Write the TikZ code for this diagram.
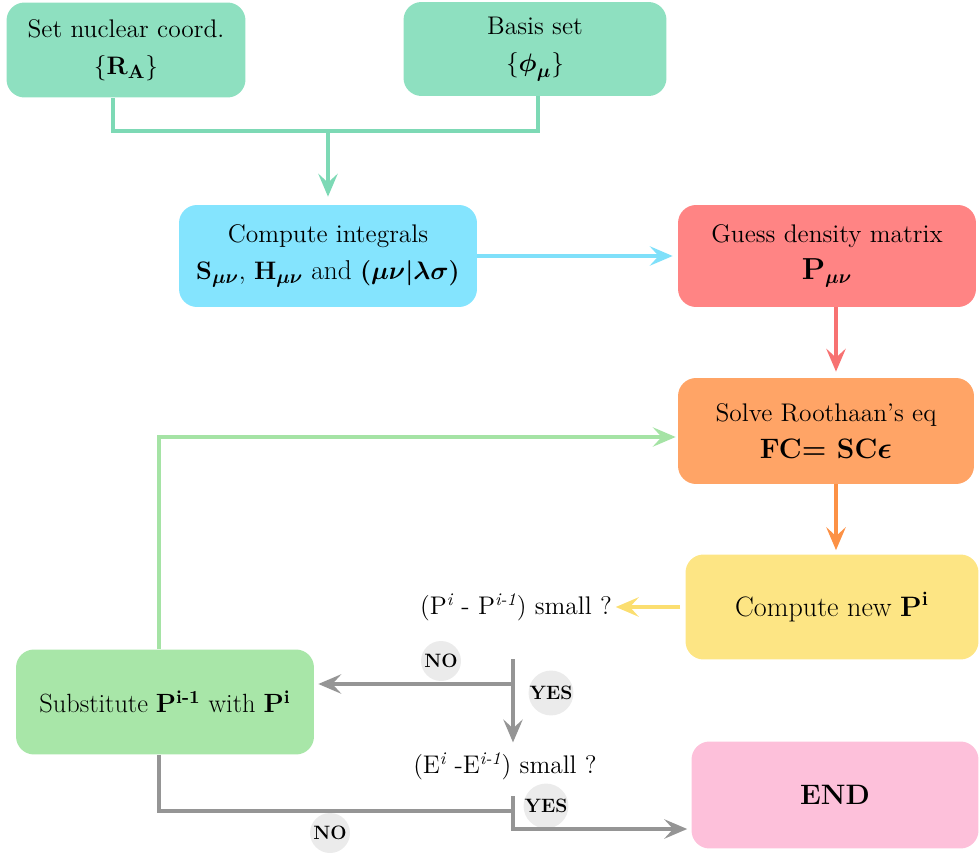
\documentclass[tikz,border=0pt]{standalone}
\usepackage{amsmath}
\usetikzlibrary{arrows.meta}
\definecolor{mintbox}{HTML}{8EE0C0}
\definecolor{mintline}{HTML}{7DD9B5}
\definecolor{cyanbox}{HTML}{84E4FE}
\definecolor{cyanline}{HTML}{7FE0FA}
\definecolor{redbox}{HTML}{FF8484}
\definecolor{redline}{HTML}{F77272}
\definecolor{orangebox}{HTML}{FFA466}
\definecolor{orangeline}{HTML}{FC9145}
\definecolor{yellowbox}{HTML}{FDE584}
\definecolor{yellowline}{HTML}{FBDE70}
\definecolor{greenbox}{HTML}{A8E6A8}
\definecolor{greenline}{HTML}{A5E3A5}
\definecolor{pinkbox}{HTML}{FDC0DA}
\definecolor{grayline}{HTML}{959595}
\definecolor{tagfill}{HTML}{EBEBEB}

\begin{document}
\begin{tikzpicture}[x=0.02cm,y=-0.02cm]
\tikzstyle{box}=[rectangle,rounded corners=0.36cm,align=center,inner sep=0pt,font=\fontsize{14.5}{17}\selectfont]
\tikzstyle{flow}=[line width=2pt,-{Stealth[length=13pt,width=11pt,inset=5pt]}]
\tikzstyle{link}=[line width=2pt]
\tikzstyle{tag}=[circle,fill=tagfill,minimum size=0.8cm,inner sep=0pt,font=\fontsize{11}{13}\selectfont\bfseries]
\tikzstyle{question}=[inner sep=2pt,font=\fontsize{14.5}{17}\selectfont]
\useasboundingbox (0,0) rectangle (979,854);

\node[box,fill=mintbox,minimum width=4.78cm,minimum height=1.9cm] (nuc) at (126,50)
  {Set nuclear coord.\\[4pt] {\fontsize{15.5}{18}\selectfont$\{\mathbf{R}_{\mathbf{A}}\}$}};
\node[box,fill=mintbox,minimum width=5.26cm,minimum height=1.88cm] (basis) at (535,49)
  {Basis set\\[4pt] {\fontsize{15.5}{18}\selectfont$\{\boldsymbol{\phi}_{\boldsymbol{\mu}}\}$}};
\node[box,fill=cyanbox,minimum width=5.96cm,minimum height=2.04cm] (ints) at (328,256)
  {Compute integrals\\[4pt] {\fontsize{15.5}{18}\selectfont$\mathbf{S}_{\boldsymbol{\mu\nu}}\mathbf{,}\ \mathbf{H}_{\boldsymbol{\mu\nu}}$ and $\boldsymbol{(\mu\nu|\lambda\sigma)}$}};
\node[box,fill=redbox,minimum width=5.96cm,minimum height=2.04cm] (guess) at (827,256)
  {Guess density matrix\\[4pt] {\fontsize{16}{19}\selectfont$\mathbf{P}_{\boldsymbol{\mu\nu}}$}};
\node[box,fill=orangebox,minimum width=5.92cm,minimum height=2.12cm] (solve) at (826,431)
  {Solve Roothaan's eq\\[4pt] {\fontsize{16}{19}\selectfont\textbf{FC= SC}$\boldsymbol{\epsilon}$}};
\node[box,fill=yellowbox,minimum width=5.86cm,minimum height=2.1cm,font=\fontsize{16}{19}\selectfont] (newp) at (832,607)
  {Compute new \textbf{P}\textsuperscript{\bfseries i}};
\node[box,fill=greenbox,minimum width=5.96cm,minimum height=2.1cm,font=\fontsize{15}{18}\selectfont] (sub) at (165,702)
  {Substitute \textbf{P}\textsuperscript{\bfseries i-1} with \textbf{P}\textsuperscript{\bfseries i}};
\node[box,fill=pinkbox,minimum width=5.74cm,minimum height=2.14cm,font=\fontsize{16}{19}\selectfont\bfseries] (endbox) at (835,795) {END};

\node[question] (q1) at (516,607) {(P\textsuperscript{\itshape i} - P\textsuperscript{\itshape i-1}) small ?};
\node[question] (q2) at (505,766) {(E\textsuperscript{\itshape i} -E\textsuperscript{\itshape i-1}) small ?};

\node[tag] (no1) at (441,661) {NO};
\node[tag] (yes1) at (551,693) {YES};
\node[tag] (yes2) at (546,806) {YES};
\node[tag] (no2) at (330,833) {NO};

\coordinate (top) at (328,131);
\coordinate (col) at (836,0);
\coordinate (d1top) at (513,659);
\coordinate (d1) at (513,684);
\coordinate (d2top) at (513,796);
\coordinate (d2) at (513,811);
\coordinate (d2bot) at (513,829);

\draw[link,mintline] ([xshift=-0.26cm]nuc.south) |- (top) -| ([xshift=0.06cm]basis.south);
\draw[flow,mintline,shorten >=0.16cm] (top) -- (ints.north);
\draw[flow,cyanline,shorten >=0.1cm] (ints.east) -- (guess.west);
\draw[flow,redline,shorten >=0.12cm] (col |- guess.south) -- (col |- solve.north);
\draw[flow,orangeline,shorten >=0.08cm] (col |- solve.south) -- (col |- newp.north);
\draw[flow,yellowline,shorten <=0.1cm] (newp.west) -- (q1.east);
\draw[flow,grayline,shorten >=0.12cm] (d1top) -- (d1 |- q2.north);
\draw[flow,grayline,shorten >=0.08cm] (d1) -- (d1 -| sub.east);
\draw[link,grayline] ([xshift=-0.12cm]sub.south) |- (d2);
\draw[flow,grayline,shorten >=0.08cm] (d2top) -- (d2bot) -- (d2bot -| endbox.west);
\draw[flow,greenline,shorten >=0.04cm] ([xshift=-0.12cm]sub.north) |- ([yshift=-0.12cm]solve.west);
\end{tikzpicture}
\end{document}
